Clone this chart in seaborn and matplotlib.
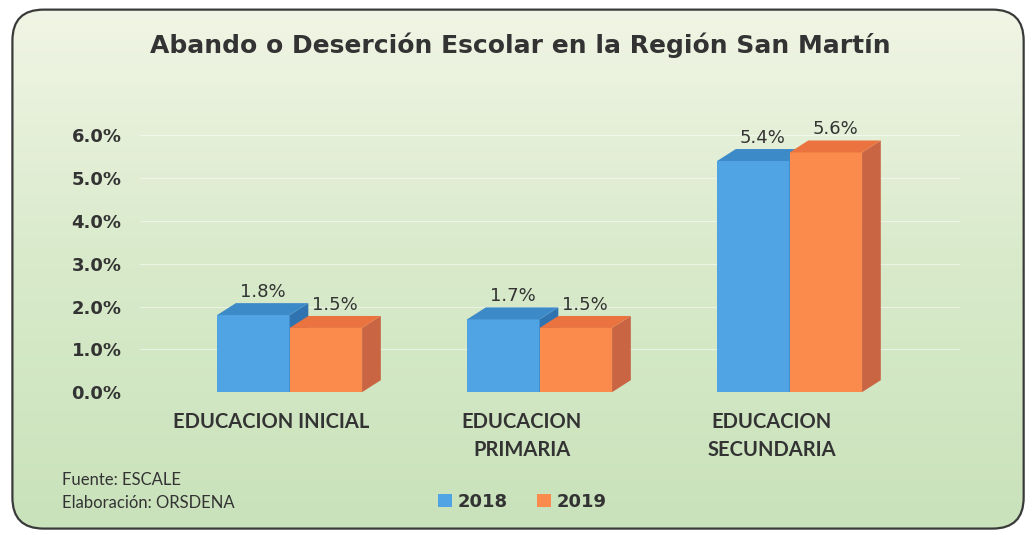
import numpy as np
import pandas as pd
import matplotlib
matplotlib.use('Agg')
import matplotlib.pyplot as plt
import matplotlib.transforms as mtransforms
import seaborn as sns
from matplotlib.patches import Polygon, FancyBboxPatch, Patch
from matplotlib.colors import LinearSegmentedColormap

# datos
niveles = ['EDUCACION INICIAL', 'EDUCACION\nPRIMARIA', 'EDUCACION\nSECUNDARIA']
anios = ['2018', '2019']
val_2018 = [1.8, 1.7, 5.4]
val_2019 = [1.5, 1.5, 5.6]
y_ticks = [0, 1, 2, 3, 4, 5, 6]

data = pd.DataFrame({
    'nivel': niveles * 2,
    'anio': [anios[0]] * 3 + [anios[1]] * 3,
    'valor': val_2018 + val_2019,
})

sns.set_style('white')
plt.rcParams['font.family'] = ['DejaVu Sans']

front = {'2018': '#51a4e4', '2019': '#fb8b4c'}
top = {'2018': '#3d8ac9', '2019': '#ea733f'}
side = {'2018': '#2f74b0', '2019': '#c96543'}

fig = plt.figure(figsize=(10.34, 5.35), dpi=100)

# fondo degradado con borde redondeado
bg = fig.add_axes([0, 0, 1, 1])
bg.set_xlim(0, 1)
bg.set_ylim(0, 1)
bg.axis('off')
cmap_bg = LinearSegmentedColormap.from_list('bg', ['#c9e2bb', '#d8eaca', '#f2f5e6'])
grad = np.linspace(0, 1, 256).reshape(-1, 1)
caja = FancyBboxPatch((0.012, 0.012), 0.978, 0.97, boxstyle='round,pad=0,rounding_size=0.03',
                      transform=bg.transAxes, facecolor='none', edgecolor='#3a3a3a', linewidth=1.6,
                      mutation_aspect=1034 / 535)
bg.add_patch(caja)
img = bg.imshow(grad, extent=[0, 1, 0, 1], origin='lower', aspect='auto', cmap=cmap_bg, zorder=0)
img.set_clip_path(caja)

ax = fig.add_axes([0.135, 0.267, 0.793, 0.528])
ax.patch.set_alpha(0)
sns.barplot(data=data, x='nivel', y='valor', hue='anio', palette=front, width=0.58,
            legend=False, ax=ax, saturation=1, linewidth=0, zorder=3)

ax.set_ylim(0, 6.6)
ax.set_xlim(-0.6, 2.68)
ax.set_yticks(y_ticks)
ax.set_yticklabels([f'{t:.1f}%' for t in y_ticks], fontsize=13, fontweight='bold', color='#333333')
ax.tick_params(axis='y', length=0, pad=13)
ax.tick_params(axis='x', length=0, pad=14)
shift = mtransforms.ScaledTranslation(-0.18, 0, fig.dpi_scale_trans)
for lbl in ax.get_xticklabels():
    lbl.set_fontfamily('Lato')
    lbl.set_fontweight('bold')
    lbl.set_fontsize(14.5)
    lbl.set_color('#333333')
    lbl.set_linespacing(1.5)
    lbl.set_transform(lbl.get_transform() + shift)
ax.set_xlabel('')
ax.set_ylabel('')
for s in ax.spines.values():
    s.set_visible(False)
ax.grid(axis='y', color='white', alpha=0.5, linewidth=0.8, zorder=0)

# caras 3D y etiquetas
dx, dy = 0.075, 0.28
bars = [p for p in ax.patches]
series = ['2018'] * 3 + ['2019'] * 3
for p, anio in zip(bars, series):
    x0 = p.get_x()
    w = p.get_width()
    h = p.get_height()
    x1 = x0 + w
    zo = 4 if anio == '2018' else 6
    p.set_zorder(zo)
    ax.add_patch(Polygon([[x1, 0], [x1 + dx, dy], [x1 + dx, h + dy], [x1, h]],
                         closed=True, facecolor=side[anio], edgecolor='none', zorder=zo))
    ax.add_patch(Polygon([[x0, h], [x0 + dx, h + dy], [x1 + dx, h + dy], [x1, h]],
                         closed=True, facecolor=top[anio], edgecolor='none', zorder=zo))
    ax.text(x0 + w / 2 + dx * 0.5, h + dy + 0.05, f'{h:.1f}%', ha='center', va='bottom',
            fontsize=13, color='#333333', zorder=8)

fig.text(0.503, 0.915, 'Abando o Deserción Escolar en la Región San Martín', ha='center', va='center',
         fontsize=18, fontweight='bold', color='#333333')
fig.text(0.06, 0.103, 'Fuente: ESCALE', fontsize=12, color='#333333', fontfamily='Lato', va='center')
fig.text(0.06, 0.06, 'Elaboración: ORSDENA', fontsize=12, color='#333333', fontfamily='Lato', va='center')

handles = [Patch(facecolor=front[a], edgecolor='none', label=a) for a in anios]
leg = fig.legend(handles=handles, loc='center', bbox_to_anchor=(0.505, 0.062), ncol=2, frameon=False,
                 handlelength=0.8, handleheight=0.8, handletextpad=0.3, columnspacing=1.6,
                 prop={'size': 13, 'weight': 'bold'})
for t in leg.get_texts():
    t.set_color('#333333')

fig.savefig('out.png', dpi=100)
